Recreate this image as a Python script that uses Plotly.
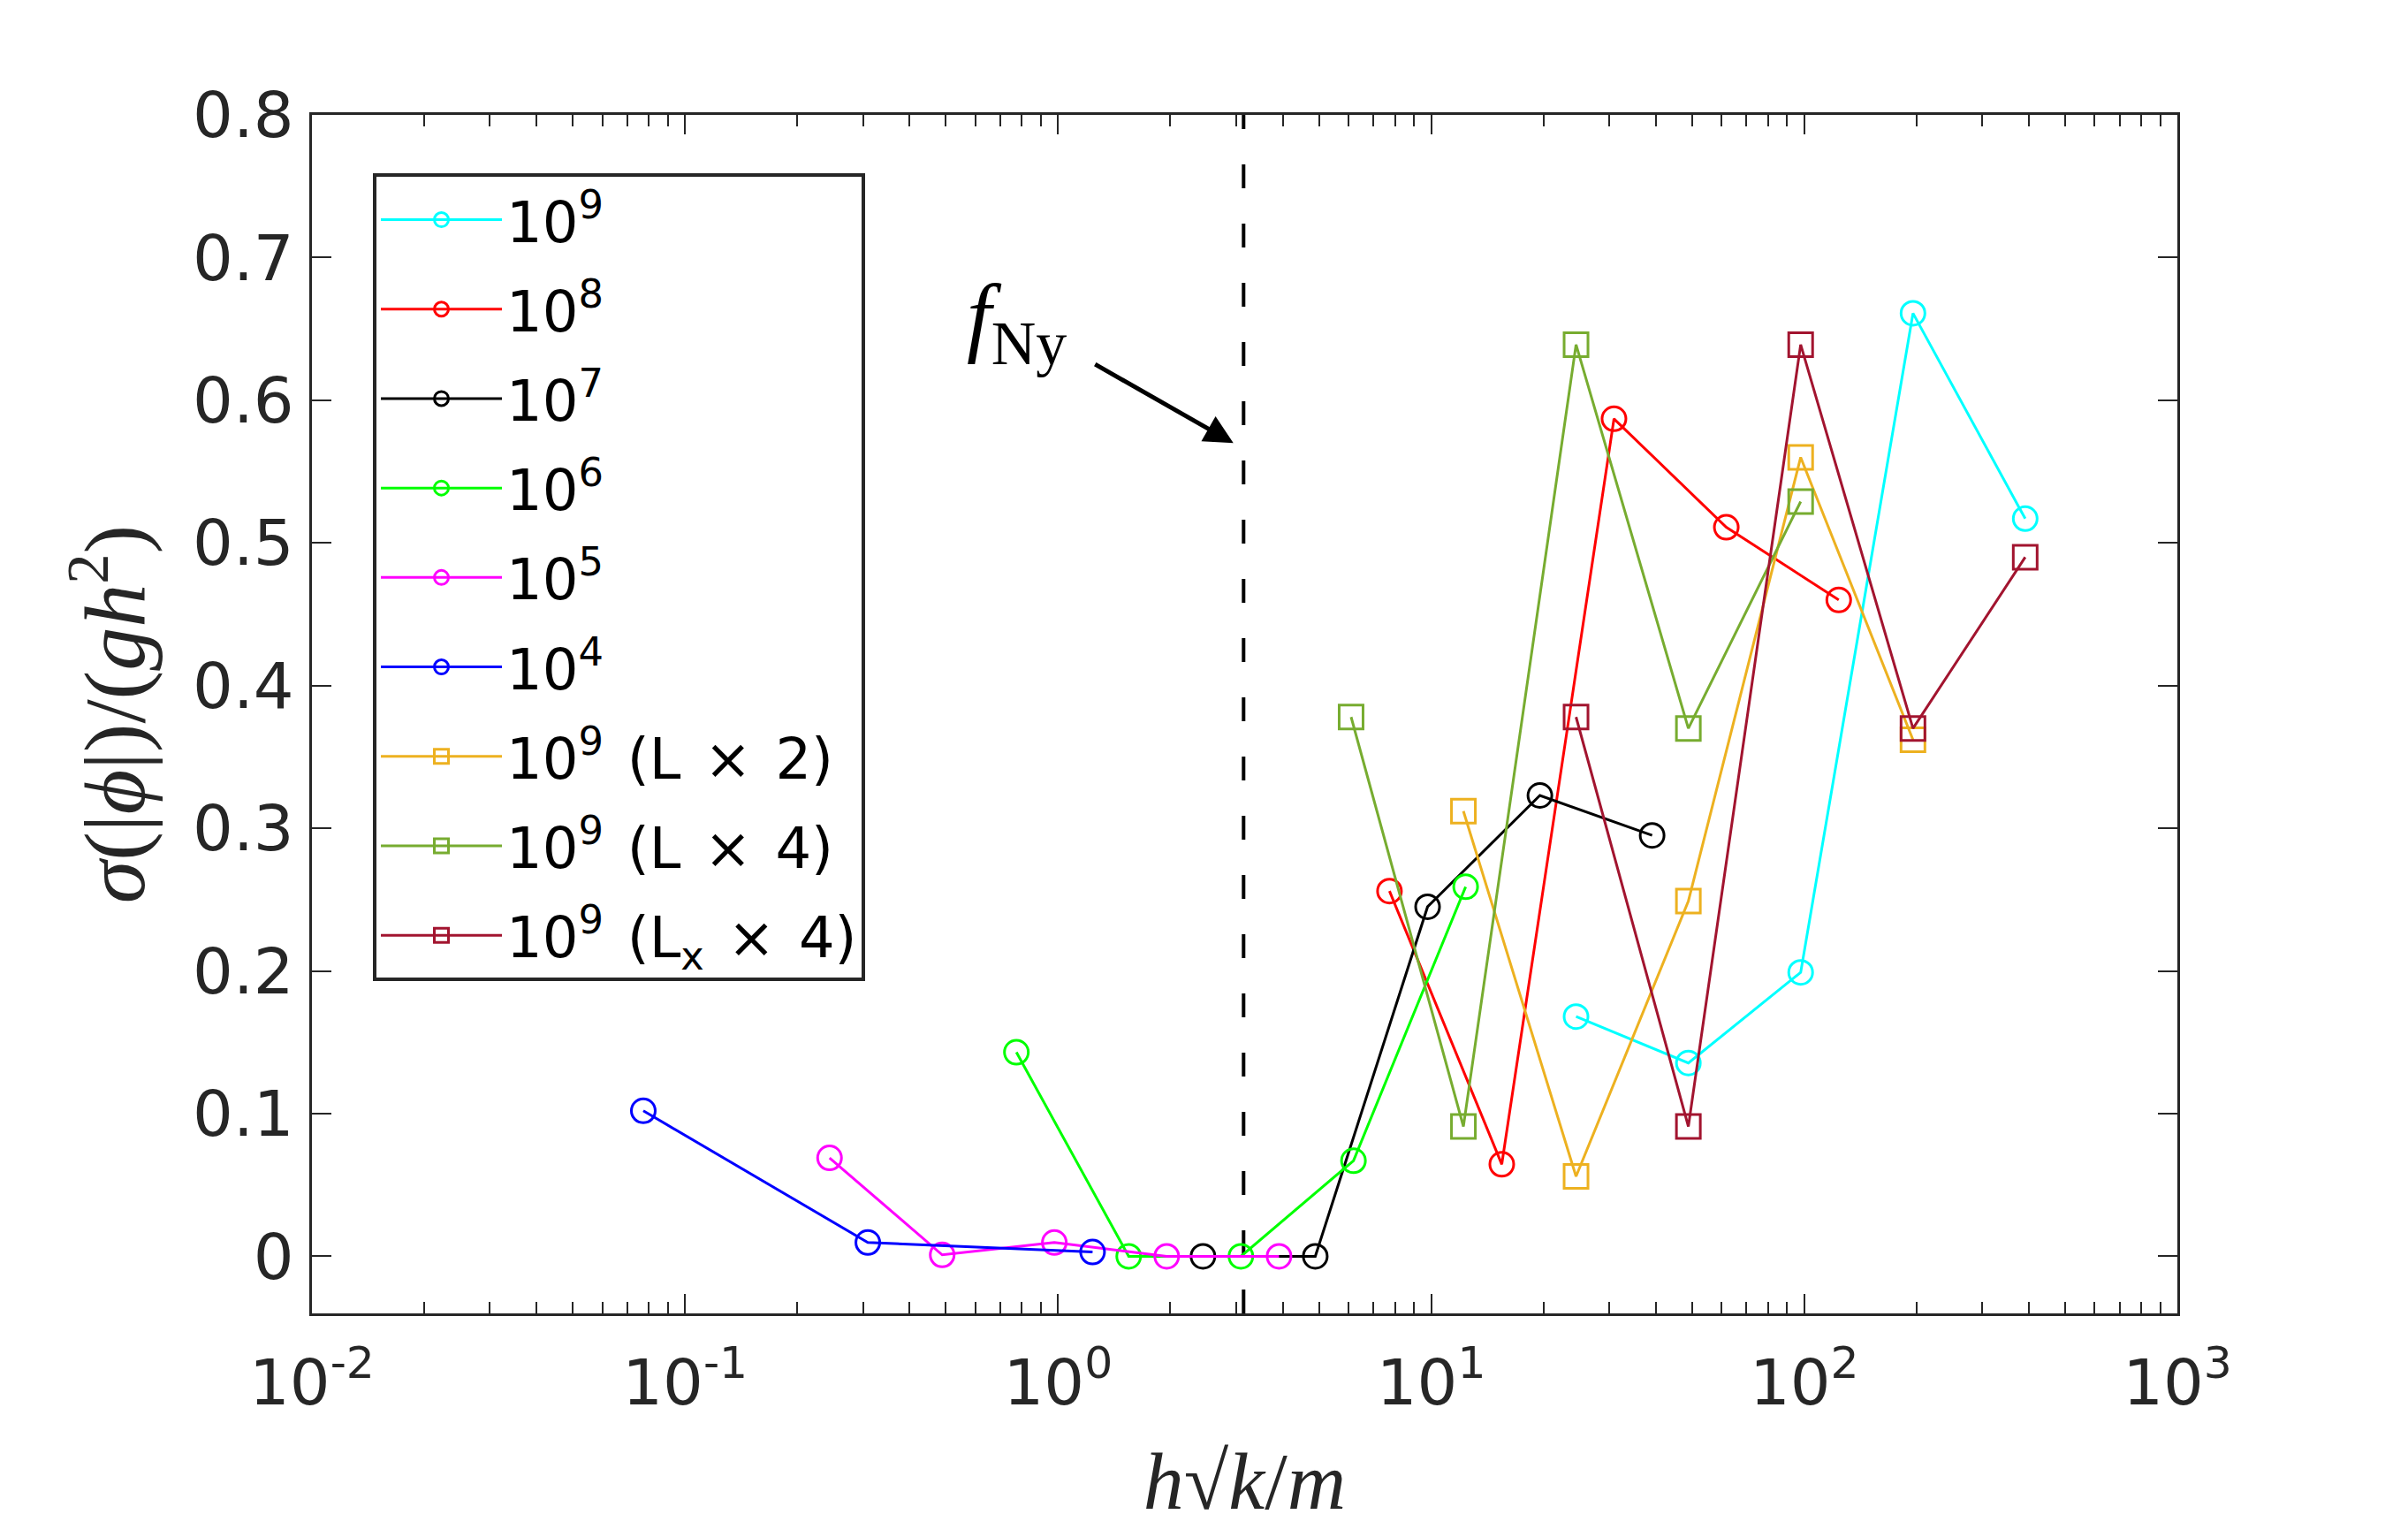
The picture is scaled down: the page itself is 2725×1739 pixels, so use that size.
import math
import plotly.graph_objects as go

# ---------------- data ----------------
x_1e4 = [0.0773, 0.309, 1.237]
y_1e4 = [0.102, 0.0097, 0.003]

x_1e5 = [0.244, 0.489, 0.977, 1.955, 3.91]
y_1e5 = [0.069, 0.001, 0.0097, 0.0, 0.0]

x_1e6 = [0.773, 1.546, 3.09, 6.19, 12.37]
y_1e6 = [0.143, 0.0, 0.0, 0.067, 0.259]

x_1e7 = [2.445, 4.89, 9.78, 19.56, 39.1]
y_1e7 = [0.0, 0.0, 0.245, 0.323, 0.295]

x_1e8 = [7.73, 15.46, 30.9, 61.8, 123.7]
y_1e8 = [0.256, 0.0645, 0.587, 0.511, 0.460]

x_1e9 = [24.45, 48.9, 97.8, 195.6, 391.0]
y_1e9 = [0.168, 0.1355, 0.199, 0.661, 0.517]

x_L2 = [12.2, 24.45, 48.9, 97.8, 195.6]
y_L2 = [0.312, 0.056, 0.249, 0.560, 0.362]

x_L4 = [6.1, 12.2, 24.45, 48.9, 97.8]
y_L4 = [0.378, 0.091, 0.639, 0.370, 0.529]

x_Lx4 = [24.45, 48.9, 97.8, 195.6, 391.0]
y_Lx4 = [0.378, 0.091, 0.639, 0.370, 0.490]

nyquist_x = math.pi
y_range = [-0.04, 0.8]
x_range_log = [-2, 3]

x_tickvals = [0.01, 0.1, 1, 10, 100, 1000]
x_ticktext = ["10<sup>-2</sup>", "10<sup>-1</sup>", "10<sup>0</sup>",
              "10<sup>1</sup>", "10<sup>2</sup>", "10<sup>3</sup>"]
y_tickvals = [0, 0.1, 0.2, 0.3, 0.4, 0.5, 0.6, 0.7, 0.8]
y_ticktext = ["0", "0.1", "0.2", "0.3", "0.4", "0.5", "0.6", "0.7", "0.8"]
x_minor_tickvals = [m * 10 ** e for e in range(-2, 3) for m in range(2, 10)]

SP = " \u200A"  # slightly wider word space, as in the reference legend
series = [
    ("10<sup>9</sup>", x_1e9, y_1e9, "#00FFFF", "circle-open"),
    ("10<sup>8</sup>", x_1e8, y_1e8, "#FF0000", "circle-open"),
    ("10<sup>7</sup>", x_1e7, y_1e7, "#000000", "circle-open"),
    ("10<sup>6</sup>", x_1e6, y_1e6, "#00FF00", "circle-open"),
    ("10<sup>5</sup>", x_1e5, y_1e5, "#FF00FF", "circle-open"),
    ("10<sup>4</sup>", x_1e4, y_1e4, "#0000FF", "circle-open"),
    ("10<sup>9</sup>" + SP + "(L" + SP + "×" + SP + "2)", x_L2, y_L2, "#EDB120", "square-open"),
    ("10<sup>9</sup>" + SP + "(L" + SP + "×" + SP + "4)", x_L4, y_L4, "#77AC30", "square-open"),
    ("10<sup>9</sup>" + SP + "(L<sub>x</sub>" + SP + "×" + SP + "4)", x_Lx4, y_Lx4, "#A2142F", "square-open"),
]

AX = "#262626"
FONT = "DejaVu Sans"
MATH = "Liberation Serif"

fig = go.Figure()

# Nyquist dashed line
fig.add_trace(go.Scatter(
    x=[nyquist_x, nyquist_x], y=y_range, mode="lines",
    line=dict(color="black", width=4, dash="27px,40px"),
    showlegend=False, hoverinfo="skip"))

for name, xs, ys, col, sym in series:
    fig.add_trace(go.Scatter(
        x=xs, y=ys, mode="lines+markers", name=name,
        legendgroup=name,
        line=dict(color=col, width=3),
        marker=dict(symbol=sym, size=27, color=col, line=dict(width=3, color=col)),
    ))

fig.update_layout(
    width=2725, height=1739,
    paper_bgcolor="white", plot_bgcolor="white",
    margin=dict(l=345, r=269, t=122, b=261),
    font=dict(family=FONT, size=64, color=AX),
    legend=dict(
        x=0.0327, y=0.951, xanchor="left", yanchor="top",
        bgcolor="white", bordercolor=AX, borderwidth=4,
        font=dict(family=FONT, size=64, color="black"),
        itemwidth=137, tracegroupgap=15,
    ),
    showlegend=True,
)

fig.update_xaxes(
    type="log", range=x_range_log,
    showline=True, linecolor=AX, linewidth=3, mirror="ticks",
    ticks="inside", ticklen=22, tickwidth=2, tickcolor=AX,
    tickvals=x_tickvals, ticktext=x_ticktext,
    tickfont=dict(family=FONT, size=72, color=AX),
    ticklabelstandoff=14,
    minor=dict(tickmode="array", tickvals=x_minor_tickvals,
               ticks="inside", ticklen=13, tickwidth=2, tickcolor=AX, showgrid=False),
    showgrid=False, zeroline=False,
    title=dict(text="<i>h</i>√<i>k</i>/<i>m</i>",
               font=dict(family=MATH, size=92, color=AX), standoff=38),
)
fig.update_yaxes(
    range=y_range,
    showline=True, linecolor=AX, linewidth=3, mirror="ticks",
    ticks="inside", ticklen=22, tickwidth=2, tickcolor=AX,
    tickvals=y_tickvals, ticktext=y_ticktext,
    tickfont=dict(family=FONT, size=72, color=AX),
    ticklabelstandoff=3,
    showgrid=False, zeroline=False,
    title=dict(text="<i>σ</i>(|<i>ϕ</i>|)/(<i>gh</i><sup>2</sup>)",
               font=dict(family=MATH, size=98, color=AX), standoff=22),
)

# f_Ny annotation with arrow
arrow_head = (2.95, 0.570)
arrow_offset = (-158, -90)
label_pos = (0.774, 0.655)
fig.add_annotation(
    x=math.log10(arrow_head[0]), y=arrow_head[1], xref="x", yref="y",
    ax=arrow_offset[0], ay=arrow_offset[1], text="", showarrow=True,
    arrowhead=2, arrowsize=1.3, arrowwidth=5, arrowcolor="black")
fig.add_annotation(
    x=math.log10(label_pos[0]), y=label_pos[1], xref="x", yref="y",
    text="<i>f</i><sub>Ny</sub>", showarrow=False,
    font=dict(family=MATH, size=100, color="black"))

fig.write_html("out.html")
